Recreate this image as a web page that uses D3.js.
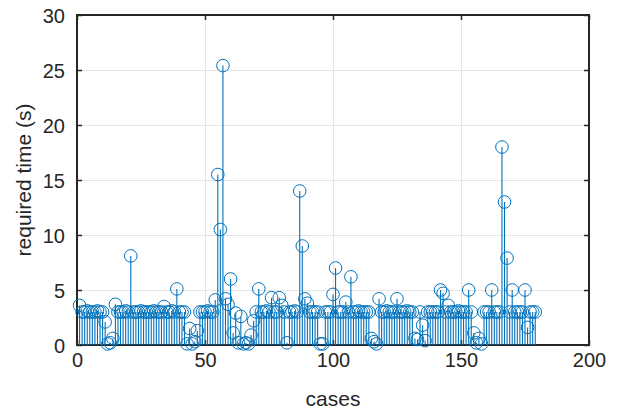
<!DOCTYPE html>
<html><head><meta charset="utf-8">
<script src="https://cdn.jsdelivr.net/npm/d3@7"></script>
<style>html,body{margin:0;padding:0;background:#fff;}svg{display:block;}</style>
</head><body>
<svg id="chart" width="619" height="411"></svg>
<script>
const requiredTime = [
  3.6,3.0,3.0,3.1,3.0,3.0,3.0,3.1,3.0,3.0,
  2.1,0.1,0.2,0.6,3.7,3.0,3.0,3.0,3.1,3.0,
  8.1,3.0,3.0,3.0,3.1,3.0,3.0,3.0,3.0,3.1,
  3.0,3.0,3.0,3.5,3.0,3.0,3.1,3.0,5.1,3.0,
  3.0,3.0,0.1,1.5,0.1,0.3,1.3,3.0,3.0,3.0,
  3.1,3.0,3.0,4.1,15.5,10.5,25.4,4.2,3.7,6.0,
  1.1,2.9,0.2,2.6,0.1,0.2,0.1,0.9,2.2,3.0,
  5.1,3.0,3.0,3.1,3.0,4.3,3.0,3.0,4.3,3.6,
  3.0,0.2,3.0,3.0,3.1,3.0,14.0,9.0,4.2,3.8,
  3.0,3.0,3.0,3.0,0.1,0.1,3.0,3.0,3.0,4.6,
  7.0,3.0,3.0,3.0,3.9,3.0,6.2,3.0,3.0,3.1,
  3.0,3.0,3.0,3.0,0.6,0.3,0.1,4.2,3.0,3.0,
  3.1,3.0,3.0,3.0,4.2,3.0,3.0,3.0,3.1,3.0,
  3.0,0.6,0.5,3.0,1.8,0.4,3.0,3.0,3.0,3.0,
  3.0,5.0,4.7,3.0,3.6,3.0,3.0,3.0,3.1,3.0,
  3.0,3.0,5.0,3.0,1.1,0.2,0.6,0.1,3.0,3.0,
  3.0,5.0,3.0,3.0,3.0,18.0,13.0,7.9,3.0,5.0,
  3.0,3.0,3.0,3.0,5.0,1.6,3.0,3.0,3.0
];
const caseIndex = requiredTime.map((_, i) => i + 1);
const xTickValues = [0, 50, 100, 150, 200];
const yTickValues = [0, 5, 10, 15, 20, 25, 30];
const xLabel = "cases";
const yLabel = "required time (s)";

const svg = d3.select("#chart");
const L = 77, R = 589, T = 15, B = 345;
const x = d3.scaleLinear().domain([0, 200]).range([L, R]);
const y = d3.scaleLinear().domain([0, 30]).range([B, T]);
const blue = "#0072BD", axisCol = "#262626", gridCol = "#e5e5e5";
const font = "Arial, 'Liberation Sans', Helvetica, sans-serif";

// grid
const g = svg.append("g");
g.selectAll("line.gx").data(xTickValues.slice(1, -1)).join("line")
  .attr("x1", d => x(d)).attr("x2", d => x(d)).attr("y1", T).attr("y2", B)
  .attr("stroke", gridCol).attr("stroke-width", 1).attr("shape-rendering", "crispEdges");
g.selectAll("line.gy").data(yTickValues.slice(1, -1)).join("line")
  .attr("y1", d => y(d)).attr("y2", d => y(d)).attr("x1", L).attr("x2", R)
  .attr("stroke", gridCol).attr("stroke-width", 1).attr("shape-rendering", "crispEdges");

// axes using d3 axis (ticks inside)
const tl = 5;
const xAxisB = svg.append("g").attr("transform", `translate(0,${B})`)
  .call(d3.axisBottom(x).tickValues(xTickValues).tickSize(-tl).tickPadding(17 + tl).tickFormat(d3.format("d")));
const xAxisT = svg.append("g").attr("transform", `translate(0,${T})`)
  .call(d3.axisTop(x).tickValues(xTickValues).tickSize(-tl).tickFormat(""));
const yAxisL = svg.append("g").attr("transform", `translate(${L},0)`)
  .call(d3.axisLeft(y).tickValues(yTickValues).tickSize(-tl).tickPadding(7 + tl).tickFormat(d3.format("d")));
const yAxisR = svg.append("g").attr("transform", `translate(${R},0)`)
  .call(d3.axisRight(y).tickValues(yTickValues).tickSize(-tl).tickFormat(""));
[xAxisB, xAxisT, yAxisL, yAxisR].forEach(a => {
  a.select(".domain").remove();
  a.selectAll(".tick line").attr("stroke", axisCol).attr("stroke-width", 1.5);
  a.selectAll("text").attr("fill", axisCol).style("font-family", font).style("font-size", "20px");
});
xAxisB.selectAll("text").attr("dy", "0em");
yAxisL.selectAll("text").attr("dy", "0.35em");

svg.append("rect").attr("x", L).attr("y", T).attr("width", R - L).attr("height", B - T)
  .attr("fill", "none").attr("stroke", axisCol).attr("stroke-width", 2);

// stems
const pts = caseIndex.map((c, i) => ({c, v: requiredTime[i]}));
svg.append("g").selectAll("line").data(pts).join("line")
  .attr("x1", d => x(d.c)).attr("x2", d => x(d.c))
  .attr("y1", y(0)).attr("y2", d => y(d.v))
  .attr("stroke", blue).attr("stroke-width", 1.1);
svg.append("g").selectAll("circle").data(pts).join("circle")
  .attr("cx", d => x(d.c)).attr("cy", d => y(d.v)).attr("r", 6.3)
  .attr("fill", "none").attr("stroke", blue).attr("stroke-width", 1);

// labels
svg.append("text").attr("x", (L + R) / 2).attr("y", 406).attr("text-anchor", "middle")
  .attr("fill", axisCol).style("font-family", font).style("font-size", "21px").text(xLabel);
svg.append("text").attr("transform", `translate(31,${(T + B) / 2}) rotate(-90)`).attr("text-anchor", "middle")
  .attr("fill", axisCol).style("font-family", font).style("font-size", "21px").text(yLabel);
</script>
</body></html>
